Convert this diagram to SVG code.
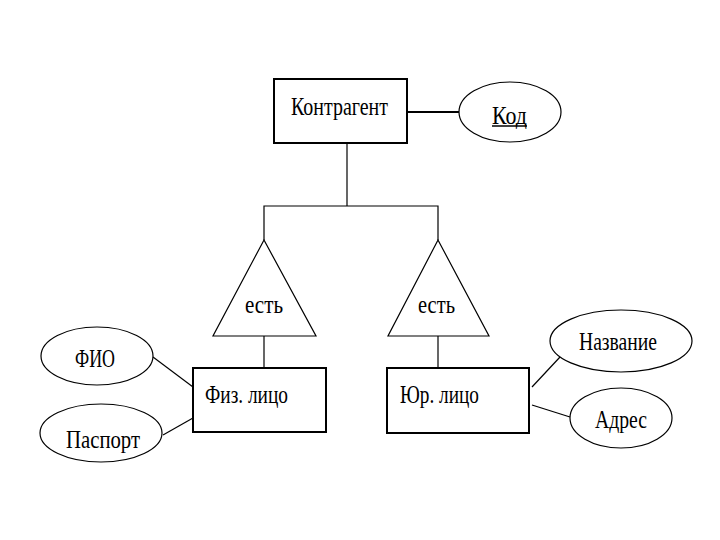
<svg xmlns="http://www.w3.org/2000/svg" width="720" height="540" viewBox="0 0 720 540">
<style>
.ent{fill:#fff;stroke:#000;stroke-width:2}
.att{fill:#fff;stroke:#000;stroke-width:1.2}
.tri{fill:#fff;stroke:#000;stroke-width:1.2}
.con{fill:none;stroke:#000;stroke-width:1.2}
.t{font-family:"Liberation Serif","Times New Roman",serif;font-size:26px;fill:#000}
</style>
<rect width="720" height="540" fill="#fff"/>
<g id="connectors">
<line class="con" x1="407" y1="112" x2="459" y2="112" style="stroke-width:2"/>
<polyline class="con" points="347,143 347,206"/>
<polyline class="con" points="264,240 264,206 438,206 438,240"/>
<line class="con" x1="264" y1="336" x2="264" y2="368"/>
<line class="con" x1="438" y1="336" x2="438" y2="368"/>
<line class="con" x1="153" y1="357" x2="193" y2="387"/>
<line class="con" x1="163" y1="435" x2="193" y2="418"/>
<line class="con" x1="532" y1="387" x2="560" y2="357"/>
<line class="con" x1="532" y1="405" x2="570" y2="417"/>
</g>
<g id="kontragent">
<rect class="ent" x="274" y="79" width="133" height="64"/>
<text class="t" x="291" y="115" textLength="97" lengthAdjust="spacingAndGlyphs">Контрагент</text>
</g>
<g id="kod">
<ellipse class="att" cx="510" cy="112" rx="51" ry="30"/>
<text class="t" x="492" y="124" textLength="35" lengthAdjust="spacingAndGlyphs">Код</text>
<line x1="492" y1="126" x2="527" y2="126" stroke="#000" stroke-width="1.5"/>
</g>
<g id="est1">
<polygon class="tri" points="264,240 213,336 316,336"/>
<text class="t" x="245" y="313" textLength="38" lengthAdjust="spacingAndGlyphs">есть</text>
</g>
<g id="est2">
<polygon class="tri" points="438,240 388,336 489,336"/>
<text class="t" x="418" y="313" textLength="37" lengthAdjust="spacingAndGlyphs">есть</text>
</g>
<g id="fiz">
<rect class="ent" x="193" y="368" width="133" height="64"/>
<text class="t" x="205" y="403" textLength="83" lengthAdjust="spacingAndGlyphs">Физ. лицо</text>
</g>
<g id="yur">
<rect class="ent" x="387" y="368" width="142" height="65"/>
<text class="t" x="400" y="403" textLength="79" lengthAdjust="spacingAndGlyphs">Юр. лицо</text>
</g>
<g id="fio">
<ellipse class="att" cx="97" cy="356" rx="56" ry="29"/>
<text class="t" x="75" y="367" textLength="40" lengthAdjust="spacingAndGlyphs">ФИО</text>
</g>
<g id="pasport">
<ellipse class="att" cx="101" cy="433" rx="61" ry="29"/>
<text class="t" x="66" y="448" textLength="74" lengthAdjust="spacingAndGlyphs">Паспорт</text>
</g>
<g id="nazvanie">
<ellipse class="att" cx="621" cy="341" rx="71" ry="31"/>
<text class="t" x="579" y="350" textLength="78" lengthAdjust="spacingAndGlyphs">Название</text>
</g>
<g id="adres">
<ellipse class="att" cx="621" cy="418" rx="51" ry="30"/>
<text class="t" x="595" y="428" textLength="52" lengthAdjust="spacingAndGlyphs">Адрес</text>
</g>
</svg>
